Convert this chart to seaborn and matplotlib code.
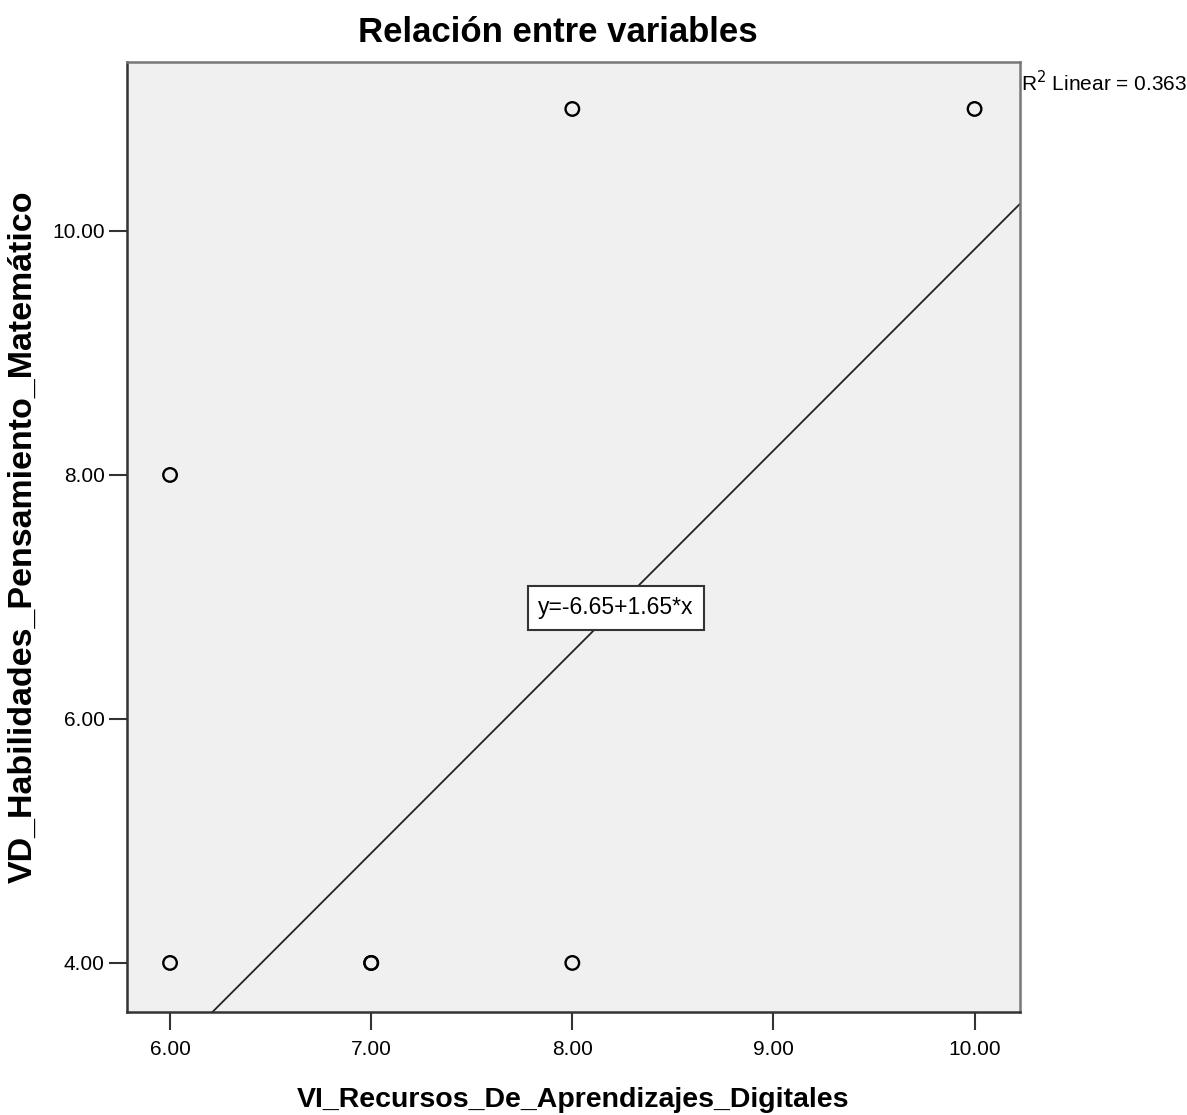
import numpy as np
import pandas as pd
import matplotlib
matplotlib.use("Agg")
import matplotlib.pyplot as plt
import seaborn as sns

# datos
vi_recursos = [6, 6, 7, 7, 8, 8, 10]
vd_habilidades = [8, 4, 4, 4, 11, 4, 11]
intercepto = -6.65
pendiente = 1.65
r2_lineal = 0.363
x_ticks = [6, 7, 8, 9, 10]
y_ticks = [4, 6, 8, 10]

df = pd.DataFrame({"VI_Recursos_De_Aprendizajes_Digitales": vi_recursos,
                   "VD_Habilidades_Pensamiento_Matematico": vd_habilidades})

sns.set_style("ticks")
plt.rcParams['font.family'] = ['Liberation Sans Narrow', 'Liberation Sans', 'DejaVu Sans']
plt.rcParams['text.color'] = 'black'
plt.rcParams['axes.labelcolor'] = 'black'

fig = plt.figure(figsize=(11.87, 11.15), dpi=100)
ax = fig.add_axes([0.107, 0.0924, 0.752, 0.852])
ax.set_facecolor('#f0f0f0')

sns.scatterplot(data=df, x="VI_Recursos_De_Aprendizajes_Digitales",
                y="VD_Habilidades_Pensamiento_Matematico", ax=ax,
                marker='o', s=95, facecolor='none', edgecolor='black', linewidth=1.7)

xlim = (5.786, 10.224)
ylim = (3.598, 11.385)
xs = np.array(xlim)
ax.plot(xs, intercepto + pendiente * xs, color='#222222', linewidth=1.3)
ax.set_xlim(xlim)
ax.set_ylim(ylim)

ax.set_xticks(x_ticks)
ax.set_xticklabels([f"{v:.2f}" for v in x_ticks])
ax.set_yticks(y_ticks)
ax.set_yticklabels([f"{v:.2f}" for v in y_ticks])
ax.tick_params(axis='both', direction='out', width=1.5, labelsize=15,
               colors='#333333', labelcolor='black')
ax.tick_params(axis='y', length=13, pad=3)
ax.tick_params(axis='x', length=13, pad=7)

for lado in ['left', 'bottom']:
    ax.spines[lado].set_linewidth(1.8)
    ax.spines[lado].set_color('#333333')
for lado in ['top', 'right']:
    ax.spines[lado].set_linewidth(1.8)
    ax.spines[lado].set_color('#777777')

ax.set_xlabel("VI_Recursos_De_Aprendizajes_Digitales", fontsize=20.5, fontweight='bold',
              family=['Liberation Sans', 'DejaVu Sans'], labelpad=20)
ax.set_ylabel("VD_Habilidades_Pensamiento_Matemático", fontsize=24.5, fontweight='bold',
              family=['Liberation Sans', 'DejaVu Sans'], labelpad=10)
fig.text(558 / 1187, 1 - 32 / 1115, "Relación entre variables", fontsize=25,
         fontweight='bold', ha='center', va='center')

ax.text(8.216, 6.91, f"y={intercepto:.2f}+{pendiente:.2f}*x", fontsize=16.5, ha='center', va='center',
        bbox=dict(boxstyle='square,pad=0.45', facecolor='white', edgecolor='#333333', linewidth=1.5))

ax.text(1.002, 0.978, f"R$^2$ Linear = {r2_lineal:.3f}", transform=ax.transAxes,
        fontsize=15, ha='left', va='center')

plt.savefig("out.png", dpi=100)
plt.close()
